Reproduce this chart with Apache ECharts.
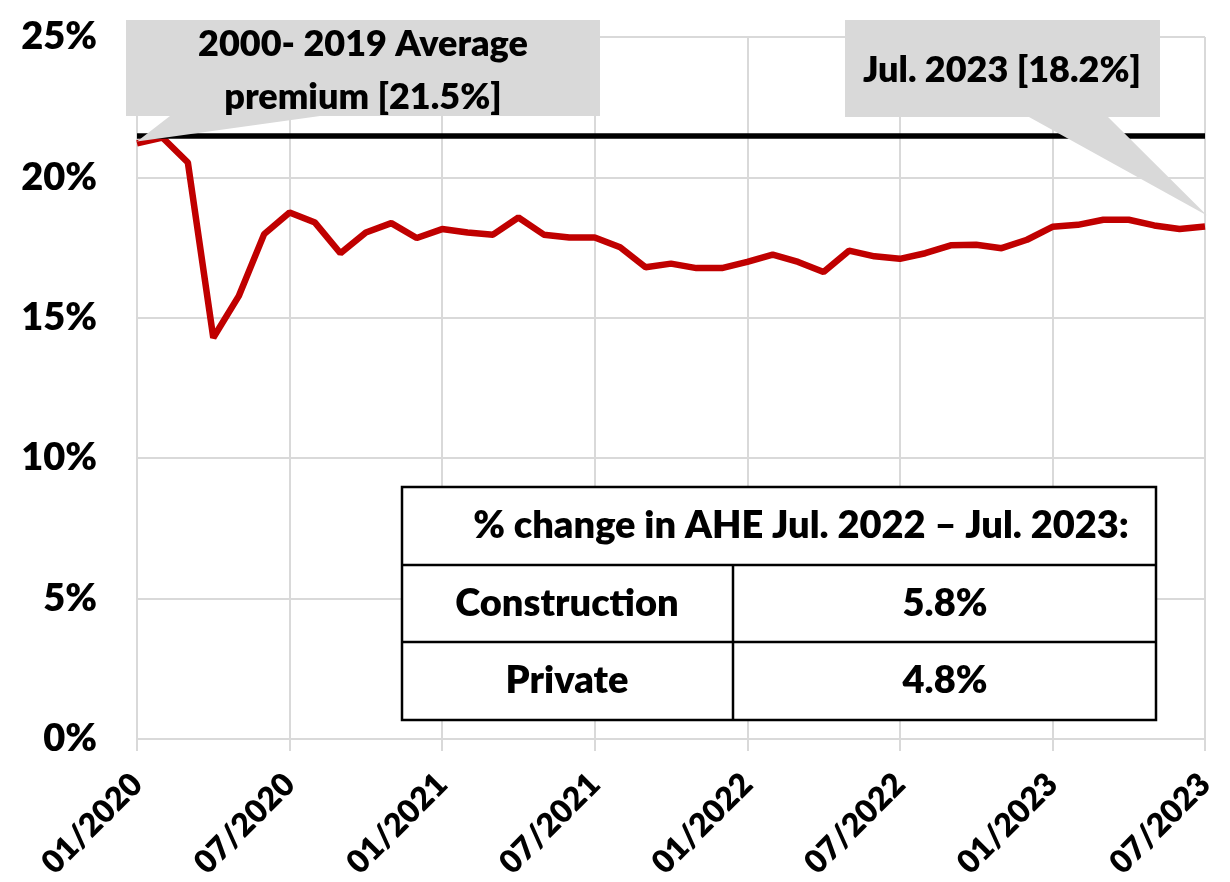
<!DOCTYPE html>
<html>
<head>
<meta charset="utf-8">
<script src="https://cdn.jsdelivr.net/npm/echarts@6/dist/echarts.min.js"></script>
<style>
  html, body { margin: 0; padding: 0; background: #fff; }
  #chart { width: 1230px; height: 882px; }
</style>
</head>
<body>
<div id="chart"></div>
<script>
// monthly categories, 01/2020 .. 07/2023
const months = [
    '01/2020', '02/2020', '03/2020', '04/2020', '05/2020', '06/2020', '07/2020', '08/2020', '09/2020', '10/2020', '11/2020', '12/2020',
    '01/2021', '02/2021', '03/2021', '04/2021', '05/2021', '06/2021', '07/2021', '08/2021', '09/2021', '10/2021', '11/2021', '12/2021',
    '01/2022', '02/2022', '03/2022', '04/2022', '05/2022', '06/2022', '07/2022', '08/2022', '09/2022', '10/2022', '11/2022', '12/2022',
    '01/2023', '02/2023', '03/2023', '04/2023', '05/2023', '06/2023', '07/2023'
]
// construction wage premium, %
const premium = [
    21.21, 21.42, 20.53, 14.29, 15.77, 17.98, 18.75, 18.39, 17.30, 18.04, 18.37, 17.84,
    18.16, 18.04, 17.96, 18.57, 17.96, 17.86, 17.86, 17.51, 16.80, 16.93, 16.77, 16.77,
    16.99, 17.25, 16.99, 16.63, 17.39, 17.19, 17.10, 17.30, 17.58, 17.60, 17.48, 17.78,
    18.24, 18.31, 18.49, 18.49, 18.29, 18.16, 18.25
]
const avgPremium = 21.5
const avgCallout = '2000- 2019 Average\npremium [21.5%]'
const lastCallout = 'Jul. 2023 [18.2%]'
const tableHeader = '% change in AHE Jul. 2022 \u2013 Jul. 2023:'
const tableRows = ['Construction', 'Private']
const tableValues = ['5.8%', '4.8%']

const FONT = 'Lato, "Open Sans", sans-serif'
const WEIGHT = 800
const GRID_COLOR = '#d9d9d9'

let chart = echarts.init(document.getElementById('chart'), null, { renderer: 'canvas' })

let option = {
    animation: false,
    backgroundColor: '#fff',
    grid: { left: 137, right: 25, top: 37, bottom: 138 },
    xAxis: {
        type: 'category',
        data: months,
        boundaryGap: false,
        axisLine: { show: true, lineStyle: { color: GRID_COLOR, width: 2 } },
        axisTick: { show: true, interval: 5, length: 12, lineStyle: { color: GRID_COLOR, width: 2 } },
        splitLine: { show: true, interval: 5, lineStyle: { color: GRID_COLOR, width: 2 } },
        axisLabel: {
            interval: 5,
            rotate: 45,
            margin: 40,
            color: '#000',
            fontFamily: FONT,
            fontWeight: WEIGHT,
            fontSize: 32
        }
    },
    yAxis: {
        type: 'value',
        min: 0,
        max: 25,
        interval: 5,
        axisLine: { show: false },
        axisTick: { show: false },
        splitLine: { lineStyle: { color: GRID_COLOR, width: 2 } },
        axisLabel: {
            margin: 40,
            color: '#000',
            fontFamily: FONT,
            fontWeight: WEIGHT,
            fontSize: 38,
            formatter: v => v + '%'
        }
    },
    series: [{
        type: 'line',
        data: premium,
        symbol: 'none',
        lineStyle: { color: '#c00000', width: 6.5 },
        z: 3,
        markLine: {
            silent: true,
            symbol: 'none',
            label: { show: false },
            lineStyle: { color: '#000', width: 5.5, type: 'solid' },
            data: [{ yAxis: avgPremium }],
            z: 4
        }
    }]
}
chart.setOption(option)

// callouts point at the data through the chart's own scales
let p0 = chart.convertToPixel({ seriesIndex: 0 }, [0, premium[0]])
let pN = chart.convertToPixel({ seriesIndex: 0 }, [premium.length - 1, premium[premium.length - 1]])

let txt = (x, y, s, size) => ({
    type: 'text',
    x, y,
    style: {
        text: s,
        fill: '#000',
        font: WEIGHT + ' ' + (size || 36) + 'px ' + FONT,
        align: 'center',
        verticalAlign: 'middle',
        lineHeight: 53
    },
    z: 20
})

let graphics = [
    {
        type: 'polygon',
        shape: { points: [[126, 20], [600, 20], [600, 116], [320, 116], [p0[0], p0[1] - 2], [170, 116], [126, 116]] },
        style: { fill: '#d9d9d9' },
        z: 10
    },
    txt(363, 71, avgCallout),
    {
        type: 'polygon',
        shape: { points: [[845, 20], [1160, 20], [1160, 117], [1108, 117], [pN[0] + 2, pN[1] - 11], [1029, 117], [845, 117]] },
        style: { fill: '#d9d9d9' },
        z: 10
    },
    txt(1002, 70, lastCallout),
    // table
    { type: 'rect', shape: { x: 402, y: 487, width: 754, height: 233 }, style: { fill: '#fff', stroke: '#000', lineWidth: 2.5 }, z: 10 },
    { type: 'line', shape: { x1: 402, y1: 565, x2: 1156, y2: 565 }, style: { stroke: '#000', lineWidth: 2.5 }, z: 11 },
    { type: 'line', shape: { x1: 402, y1: 642, x2: 1156, y2: 642 }, style: { stroke: '#000', lineWidth: 2.5 }, z: 11 },
    { type: 'line', shape: { x1: 733, y1: 565, x2: 733, y2: 720 }, style: { stroke: '#000', lineWidth: 2.5 }, z: 11 },
    txt(801, 526, tableHeader, 38),
    txt(567, 604, tableRows[0], 38),
    txt(945, 604, tableValues[0], 38),
    txt(567, 681, tableRows[1], 38),
    txt(945, 681, tableValues[1], 38)
]
chart.setOption({ graphic: graphics })
</script>
</body>
</html>
